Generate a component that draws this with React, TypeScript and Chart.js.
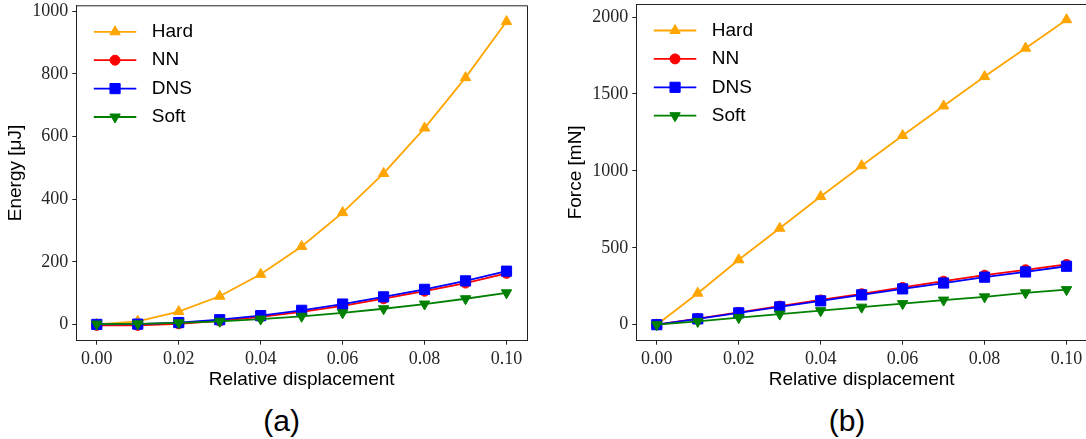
import React, { useEffect, useRef } from 'react';
import { Chart, registerables } from 'chart.js';
import { drawPoint } from 'chart.js/helpers';

Chart.register(...registerables);

// ---------- data ----------
const displacement = [0, 0.01, 0.02, 0.03, 0.04, 0.05, 0.06, 0.07, 0.08, 0.09, 0.1];
const xTicks = [0, 0.02, 0.04, 0.06, 0.08, 0.1];

const energyTicks = [0, 200, 400, 600, 800, 1000];
const energyHard = [0, 10, 41, 90, 160, 249, 357, 482, 627, 788, 967];
const energyNN = [-3, -3, 2, 11, 24, 40, 59, 82, 106, 132, 163];
const energyDNS = [0, 1, 6, 15, 28, 45, 65, 88, 112, 139, 170];
const energySoft = [1, 2, 5, 10, 17, 26, 37, 50, 65, 82, 101];

const forceTicks = [0, 500, 1000, 1500, 2000];
const forceHard = [0, 205, 422, 627, 833, 1034, 1230, 1422, 1613, 1798, 1983];
const forceNN = [0, 40, 80, 121, 161, 201, 242, 283, 322, 357, 392];
const forceDNS = [0, 38, 77, 116, 155, 194, 233, 271, 309, 343, 380];
const forceSoft = [0, 21, 46, 69, 91, 114, 137, 160, 181, 207, 228];

const seriesLabels = ['Hard', 'NN', 'DNS', 'Soft'];
const seriesColors = ['#FFA500', '#FF0000', '#0000FF', '#008000'];
const seriesStyles = ['triangle', 'circle', 'rect', 'triangle'];
const seriesRotation = [0, 0, 0, 180];
const seriesRadius = [6, 5, 7.2, 6];
const seriesOrder = [3, 2, 1, 0];

const SANS = '"Liberation Sans", Arial, sans-serif';
const SERIF = '"Liberation Serif", "Times New Roman", serif';

const lineLegend = {
  id: 'lineLegend',
  afterDraw(chart: any) {
    const { ctx, chartArea } = chart;
    ctx.save();
    // top & right spines
    ctx.strokeStyle = '#222';
    ctx.lineWidth = 1;
    ctx.beginPath();
    ctx.moveTo(chartArea.left, chartArea.top + 0.5);
    ctx.lineTo(chartArea.right + 0.5, chartArea.top + 0.5);
    ctx.lineTo(chartArea.right + 0.5, chartArea.bottom);
    ctx.stroke();

    chart.data.datasets.forEach((ds: any, i: number) => {
      const y = chartArea.top + 26.5 + i * 28.4;
      const x0 = chartArea.left + 17.5;
      const x1 = chartArea.left + 60;
      ctx.strokeStyle = ds.borderColor;
      ctx.lineWidth = ds.borderWidth;
      ctx.beginPath();
      ctx.moveTo(x0, y);
      ctx.lineTo(x1, y);
      ctx.stroke();
      ctx.fillStyle = ds.pointBackgroundColor;
      ctx.strokeStyle = ds.pointBorderColor;
      ctx.lineWidth = ds.pointBorderWidth;
      drawPoint(
        ctx,
        {
          pointStyle: ds.pointStyle,
          rotation: ds.pointRotation,
          radius: ds.pointRadius,
          borderWidth: ds.pointBorderWidth,
        } as any,
        (x0 + x1) / 2,
        y
      );
      ctx.fillStyle = '#000';
      ctx.font = `19px ${SANS}`;
      ctx.textBaseline = 'middle';
      ctx.textAlign = 'left';
      ctx.fillText(ds.label, chartArea.left + 75.5, y);
    });
    ctx.restore();
  },
};

function makeChart(
  canvas: HTMLCanvasElement,
  series: number[][],
  yTicks: number[],
  yMin: number,
  yMax: number,
  yTitle: string,
  topPad: number
) {
  const H = canvas.height;
  return new Chart(canvas, {
    type: 'line',
    data: {
      datasets: series.map((vals, i) => ({
        label: seriesLabels[i],
        data: displacement.map((x, j) => ({ x, y: vals[j] })),
        borderColor: seriesColors[i],
        backgroundColor: seriesColors[i],
        pointBackgroundColor: seriesColors[i],
        pointBorderColor: seriesColors[i],
        pointBorderWidth: 1,
        borderWidth: 1.8,
        pointStyle: seriesStyles[i] as any,
        pointRotation: seriesRotation[i],
        pointRadius: seriesRadius[i],
        pointHoverRadius: seriesRadius[i],
        order: seriesOrder[i],
        tension: 0,
        fill: false,
      })),
    },
    options: {
      responsive: false,
      animation: false,
      devicePixelRatio: 1,
      layout: { autoPadding: false, padding: { left: 0, right: 33, top: topPad, bottom: 0 } },
      plugins: {
        legend: { display: false },
        tooltip: { enabled: false },
        title: { display: false },
      },
      scales: {
        x: {
          type: 'linear',
          min: -0.005,
          max: 0.105,
          afterBuildTicks: (s: any) => {
            s.ticks = xTicks.map((v) => ({ value: v }));
          },
          afterFit: (s: any) => {
            s.height = H - 340.7;
            s.paddingLeft = 0;
            s.paddingRight = 0;
            s.paddingTop = 0;
            s.paddingBottom = 0;
          },
          grid: {
            drawOnChartArea: false,
            drawTicks: true,
            tickLength: 4,
            color: '#222',
          },
          border: { display: true, color: '#222', width: 1 },
          ticks: {
            autoSkip: false,
            maxRotation: 0,
            minRotation: 0,
            padding: 4,
            color: '#262626',
            font: { family: SERIF, size: 18 },
            callback: (v: any) => Number(v).toFixed(2),
          },
          title: {
            display: true,
            text: 'Relative displacement',
            color: '#000',
            font: { family: SANS, size: 19 },
            padding: { top: 0, bottom: 9 },
          },
        },
        y: {
          type: 'linear',
          min: yMin,
          max: yMax,
          afterBuildTicks: (s: any) => {
            s.ticks = yTicks.map((v) => ({ value: v }));
          },
          afterFit: (s: any) => {
            s.width = 76.3;
            s.paddingTop = 0;
            s.paddingBottom = 0;
            s.paddingLeft = 0;
            s.paddingRight = 0;
          },
          grid: {
            drawOnChartArea: false,
            drawTicks: true,
            tickLength: 4,
            color: '#222',
          },
          border: { display: true, color: '#222', width: 1 },
          ticks: {
            autoSkip: false,
            padding: 4,
            color: '#262626',
            font: { family: SERIF, size: 18 },
            callback: (v: any) => String(v),
          },
          title: {
            display: true,
            text: yTitle,
            color: '#000',
            font: { family: SANS, size: 19 },
            padding: { top: 4, bottom: 0 },
          },
        },
      },
    } as any,
    plugins: [lineLegend],
  });
}

export default function App() {
  const leftRef = useRef<HTMLCanvasElement>(null);
  const rightRef = useRef<HTMLCanvasElement>(null);

  useEffect(() => {
    document.body.style.margin = '0';
    const a = makeChart(
      leftRef.current!,
      [energyHard, energyNN, energyDNS, energySoft],
      energyTicks,
      -52,
      1019,
      'Energy [μJ]',
      5.3
    );
    const b = makeChart(
      rightRef.current!,
      [forceHard, forceNN, forceDNS, forceSoft],
      forceTicks,
      -104,
      2085,
      'Force [mN]',
      4
    );
    return () => {
      a.destroy();
      b.destroy();
    };
  }, []);

  const panelLabel: React.CSSProperties = {
    position: 'absolute',
    top: 406,
    width: 100,
    textAlign: 'center',
    fontFamily: SANS,
    fontSize: 30,
    lineHeight: '30px',
    color: '#000',
  };

  return (
    <div
      style={{
        position: 'absolute',
        left: 0,
        top: 0,
        width: 1086,
        height: 439,
        overflow: 'hidden',
        background: '#fff',
      }}
    >
      <canvas ref={leftRef} width={560} height={400} style={{ position: 'absolute', left: 0, top: 0 }} />
      <canvas ref={rightRef} width={560} height={400} style={{ position: 'absolute', left: 560, top: 0 }} />
      <div style={{ ...panelLabel, left: 231.7 }}>(a)</div>
      <div style={{ ...panelLabel, left: 797 }}>(b)</div>
    </div>
  );
}
